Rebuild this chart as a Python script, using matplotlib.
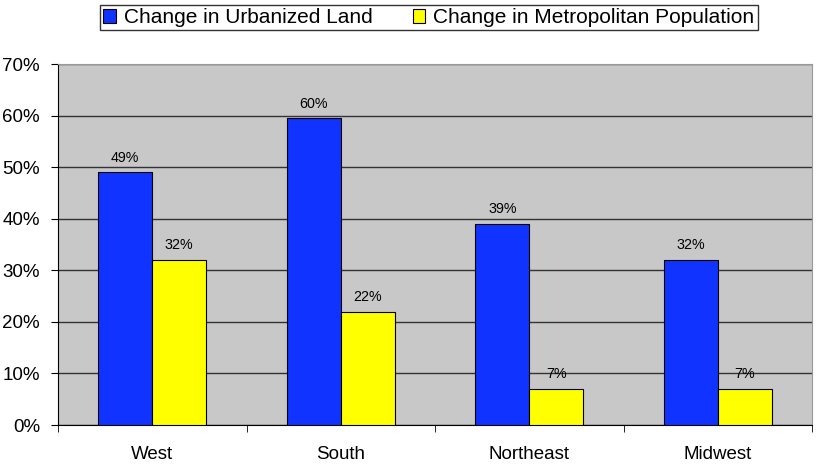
"""Regional change in urbanized land vs metropolitan population."""

from matplotlib import pyplot as plot
from matplotlib.ticker import FixedLocator

regions = ['West', 'South', 'Northeast', 'Midwest']
urban_land = [49, 59.5, 39, 32]
metro_pop = [32, 22, 7, 7]
urban_labels = ['49%', '60%', '39%', '32%']
metro_labels = ['32%', '22%', '7%', '7%']
y_ticks = [0, 10, 20, 30, 40, 50, 60, 70]

plot.rcParams['font.family'] = ['Liberation Sans', 'DejaVu Sans']

figure = plot.figure(figsize=(8.17, 4.65), dpi=100)
figure.set_facecolor('white')
ax = figure.add_axes([0.071, 0.086, 0.923, 0.776])
ax.set_facecolor('#C8C8C8')

width = 0.286
xs = list(range(len(regions)))
blue = ax.bar([x - width / 2 for x in xs], urban_land, width, color='#1033FF',
              edgecolor='black', lw=0.8, zorder=3, label='Change in Urbanized Land')
yellow = ax.bar([x + width / 2 for x in xs], metro_pop, width, color='#FFFF00',
                edgecolor='black', lw=0.8, zorder=3, label='Change in Metropolitan Population')

for rect, text in zip(blue, urban_labels):
    ax.text(rect.get_x() + rect.get_width() / 2, rect.get_height() + 1.5, text,
            ha='center', va='bottom', fontsize=10.3, zorder=4)
for rect, text in zip(yellow, metro_labels):
    ax.text(rect.get_x() + rect.get_width() / 2, rect.get_height() + 1.5, text,
            ha='center', va='bottom', fontsize=10.3, zorder=4)

ax.set_xlim(-0.5, len(regions) - 0.5)
ax.set_ylim(0, 70)
ax.set_yticks(y_ticks)
ax.set_yticklabels([f'{v}%' for v in y_ticks], fontsize=13.5)
ax.yaxis.grid(True, color='#333333', lw=1, zorder=1)

ax.set_xticks(xs)
ax.set_xticklabels(regions, fontsize=13.5)
ax.tick_params(axis='x', which='major', length=0, pad=15)
ax.xaxis.set_minor_locator(FixedLocator([x + 0.5 for x in [-1] + xs]))
ax.tick_params(axis='x', which='minor', length=5, direction='out', color='black')
ax.tick_params(axis='y', length=5, direction='out', pad=8)

ax.spines['left'].set_color('black')
ax.spines['bottom'].set_color('black')
ax.spines['top'].set_color('#999999')
ax.spines['right'].set_color('#999999')

legend = figure.legend(handles=[blue, yellow], loc='upper center', bbox_to_anchor=(0.525, 1.0),
                       ncol=2, fontsize=15, frameon=True, fancybox=False, edgecolor='black',
                       handlelength=0.6, handleheight=0.6, handletextpad=0.4, columnspacing=1.9,
                       borderpad=0.15, borderaxespad=0.25)
legend.get_frame().set_linewidth(1)

figure.savefig('out.png', dpi=100)
